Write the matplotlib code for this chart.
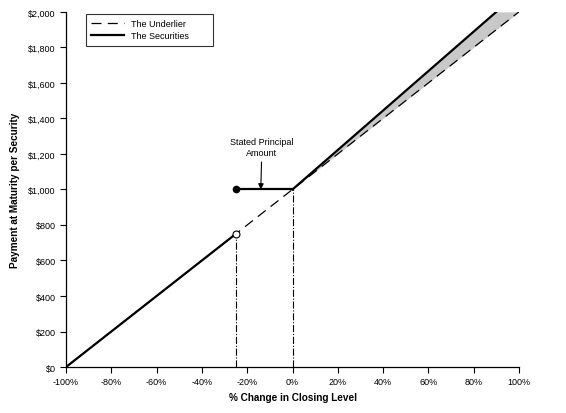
import numpy as np
import matplotlib
matplotlib.use('Agg')
import matplotlib.pyplot as plt

plt.rcParams['font.family'] = ['Liberation Sans', 'DejaVu Sans']

# payoff inputs
pct_change = [-100, -25, 0, 100]
underlier = [0, 750, 1000, 2000]
sec_down_x = [-100, -25]
sec_down_y = [0, 750]
sec_flat_x = [-25, 0]
sec_flat_y = [1000, 1000]
sec_up_x = [0, 90]
sec_up_y = [1000, 2000]
xticks = [-100, -80, -60, -40, -20, 0, 20, 40, 60, 80, 100]
yticks = [0, 200, 400, 600, 800, 1000, 1200, 1400, 1600, 1800, 2000]

fig = plt.figure(figsize=(5.66, 4.14), dpi=100)
ax = fig.add_axes([0.1166, 0.111, 0.8004, 0.858])

# shaded area between securities and underlier on the upside
xs = np.array(sec_up_x, dtype=float)
xs = np.append(xs, 100)
sec_vals = np.interp(xs, sec_up_x, sec_up_y, right=2000)
und_vals = np.interp(xs, pct_change, underlier)
ax.fill_between(xs, und_vals, sec_vals, color='#c8c8c8', lw=0, zorder=1)

ax.plot(pct_change, underlier, color='black', lw=0.9, ls=(0, (8, 5)), zorder=2,
        label='The Underlier')
ax.plot(sec_down_x, sec_down_y, color='black', lw=1.6, zorder=3, label='The Securities')
ax.plot(sec_flat_x, sec_flat_y, color='black', lw=1.6, zorder=3)
ax.plot(sec_up_x, sec_up_y, color='black', lw=1.6, zorder=3)

# markers
ax.plot([-25], [1000], 'o', color='black', ms=4.5, zorder=4)
ax.plot([-25], [750], 'o', mfc='white', mec='black', mew=0.8, ms=5, zorder=4)

# vertical guides
ax.plot([-25, -25], [0, 750], color='black', lw=0.8, ls='-.', zorder=2)
ax.plot([0, 0], [0, 1000], color='black', lw=0.8, ls='-.', zorder=2)

ax.annotate('Stated Principal\nAmount', xy=(-14, 1000), xytext=(-13.5, 1240),
            ha='center', va='center', fontsize=6.5,
            arrowprops=dict(arrowstyle='-|>', color='black', lw=0.8,
                            mutation_scale=8, shrinkA=2, shrinkB=0))

ax.set_xlim(-100, 100)
ax.set_ylim(0, 2000)
ax.set_xticks(xticks)
ax.set_xticklabels([f'{v}%' for v in xticks])
ax.set_yticks(yticks)
ax.set_yticklabels([f'${v:,}' for v in yticks])
ax.tick_params(labelsize=6.5, length=4, width=0.8, direction='out')
for s in ['top', 'right']:
    ax.spines[s].set_visible(False)
for s in ['left', 'bottom']:
    ax.spines[s].set_linewidth(0.9)

ax.set_xlabel('% Change in Closing Level', fontsize=7.2, fontweight='bold', labelpad=4)
ax.set_ylabel('Payment at Maturity per Security', fontsize=7.2, fontweight='bold', labelpad=6)

# expanded legend so the box is wider than its contents
leg = ax.legend(loc='upper left', bbox_to_anchor=(0.044, 0.9, 0.28, 0.094),
                mode='expand', borderaxespad=0, fontsize=6.5,
                frameon=True, fancybox=False, edgecolor='black', handlelength=3.6,
                handletextpad=0.8, borderpad=0.6, labelspacing=0.3)
leg.get_frame().set_linewidth(0.8)

fig.savefig('out.png', dpi=100)
